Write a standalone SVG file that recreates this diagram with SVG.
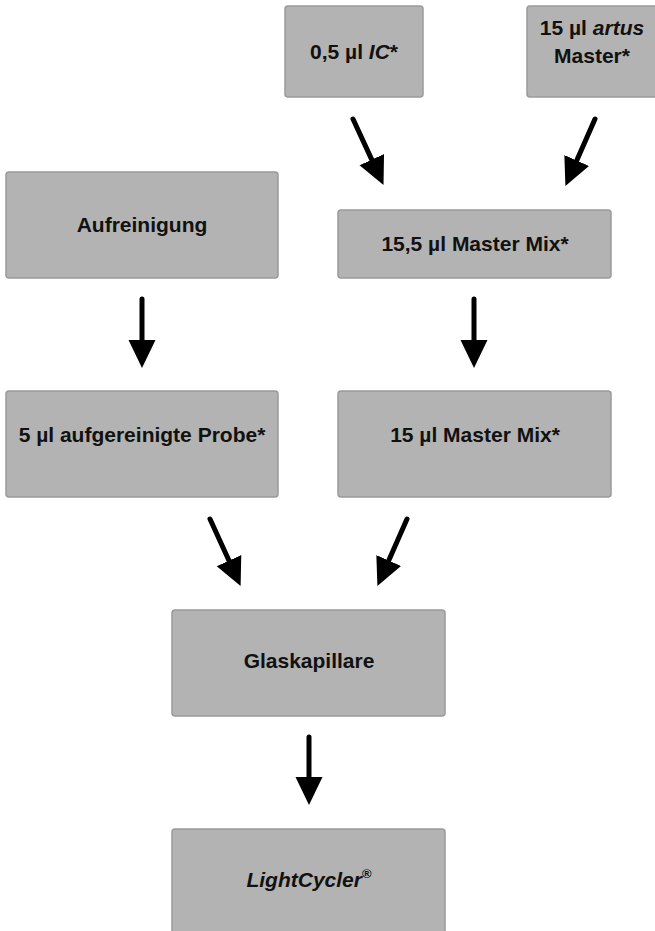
<svg xmlns="http://www.w3.org/2000/svg" width="655" height="931" viewBox="0 0 655 931">
<style>
.box{fill:#b3b3b3;stroke:#9a9a9a;stroke-width:1.5}
.t{font-family:"Liberation Sans",Arial,sans-serif;font-weight:bold;font-size:21px;fill:#111;text-anchor:middle}
.c{stroke:#000;stroke-width:5;stroke-linecap:round;fill:none}
</style>
<defs>
<marker id="ah" viewBox="0 -14 28 28" refX="1" refY="0" markerWidth="28" markerHeight="28" markerUnits="userSpaceOnUse" orient="auto">
<path d="M0,-13.5 L28,0 L0,13.5 Z" fill="#000"/>
</marker>
</defs>
<rect width="655" height="931" fill="#fff"/>
<g id="ic">
<rect class="box" x="285" y="6" width="138" height="91" rx="3"/>
<text class="t" x="354" y="59">0,5 µl <tspan font-style="italic">IC</tspan>*</text>
</g>
<g id="artus">
<rect class="box" x="527" y="6" width="138" height="91" rx="3"/>
<text class="t" x="592" y="35">15 µl <tspan font-style="italic">artus</tspan></text>
<text class="t" x="592" y="63">Master*</text>
</g>
<g id="aufreinigung">
<rect class="box" x="6" y="172" width="272" height="106" rx="3"/>
<text class="t" x="142" y="232">Aufreinigung</text>
</g>
<g id="mastermix155">
<rect class="box" x="338" y="210" width="273" height="68" rx="3"/>
<text class="t" x="475" y="251">15,5 µl Master Mix*</text>
</g>
<g id="probe">
<rect class="box" x="6" y="391" width="272" height="106" rx="3"/>
<text class="t" x="142" y="442">5 µl aufgereinigte Probe*</text>
</g>
<g id="mastermix15">
<rect class="box" x="338" y="391" width="273" height="106" rx="3"/>
<text class="t" x="475" y="442">15 µl Master Mix*</text>
</g>
<g id="glaskapillare">
<rect class="box" x="172" y="610" width="273" height="106" rx="3"/>
<text class="t" x="309" y="668">Glaskapillare</text>
</g>
<g id="lightcycler">
<rect class="box" x="172" y="829" width="273" height="110" rx="3"/>
<text class="t" x="309" y="887"><tspan font-style="italic">LightCycler</tspan><tspan font-size="13" dy="-9">®</tspan></text>
</g>
<g id="connectors">
<line class="c" x1="353" y1="119" x2="372.2" y2="160.6" marker-end="url(#ah)"/>
<line class="c" x1="595" y1="119" x2="576.3" y2="161.4" marker-end="url(#ah)"/>
<line class="c" x1="142" y1="299" x2="142" y2="341" marker-end="url(#ah)"/>
<line class="c" x1="474" y1="299" x2="474" y2="341" marker-end="url(#ah)"/>
<line class="c" x1="210" y1="519" x2="229.4" y2="561.5" marker-end="url(#ah)"/>
<line class="c" x1="407" y1="519" x2="388.3" y2="561.4" marker-end="url(#ah)"/>
<line class="c" x1="309" y1="737" x2="309" y2="778" marker-end="url(#ah)"/>
</g>
</svg>
